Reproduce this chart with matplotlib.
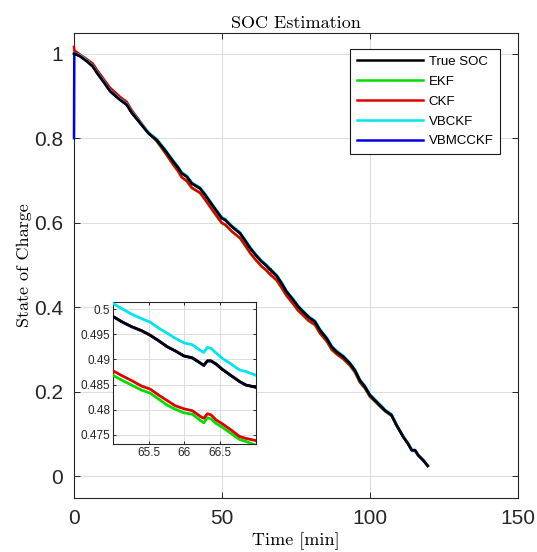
import numpy as np
import matplotlib.pyplot as plt

# discharge time [min] and reference state of charge
time_min = [
    0.0, 0.1, 2.0, 4.3, 6.3, 7.7, 9.9, 12.2, 13.5, 15.5,
    17.8, 19.5, 22.3, 25.1, 27.9, 30.7, 33.5, 35.2, 36.4, 38.1,
    39.8, 42.6, 44.3, 47.1, 49.9, 51.0, 53.3, 56.1, 57.7, 59.5,
    61.1, 63.4,
    64.98, 65.12, 65.26, 65.40, 65.52, 65.64, 65.76, 65.87, 65.99, 66.11,
    66.23, 66.27, 66.32, 66.37, 66.44, 66.53, 66.65, 66.77, 66.86, 66.99,
    68.5, 70.2, 71.8, 74.1, 75.8, 76.9, 79.2, 81.4, 83.1, 85.4,
    87.1, 88.7, 91.0, 93.2, 94.9, 96.6, 98.3, 100.0, 101.7, 103.4,
    105.1, 107.3, 109.0, 111.3, 112.9, 114.1, 115.2, 116.3, 118.0, 119.5,
]
true_soc = [
    1.000, 1.000, 0.994, 0.982, 0.970, 0.955, 0.934, 0.911, 0.903, 0.891,
    0.879, 0.860, 0.836, 0.812, 0.796, 0.772, 0.745, 0.730, 0.717, 0.709,
    0.693, 0.681, 0.666, 0.638, 0.611, 0.607, 0.591, 0.575, 0.559, 0.540,
    0.526, 0.508,
    0.4987, 0.4975, 0.4965, 0.4957, 0.4948, 0.4937, 0.4925, 0.4917, 0.4907, 0.4903,
    0.4892, 0.4888, 0.4897, 0.4897, 0.4891, 0.4880, 0.4868, 0.4856, 0.4849, 0.4845,
    0.474, 0.456, 0.437, 0.417, 0.401, 0.393, 0.377, 0.366, 0.346, 0.326,
    0.306, 0.295, 0.283, 0.267, 0.251, 0.227, 0.212, 0.192, 0.180, 0.168,
    0.156, 0.145, 0.121, 0.093, 0.077, 0.062, 0.062, 0.050, 0.038, 0.025,
]

# estimation error of each filter on the same time base
ekf_err = [
    0.0, 0.006, 0.003, 0.004, 0.006, 0.006, 0.006, 0.007, 0.007, 0.006,
    0.006, 0.005, 0.003, 0.0, -0.003, -0.006, -0.008, -0.009, -0.010, -0.011,
    -0.011, -0.011, -0.012, -0.012, -0.012, -0.012, -0.012, -0.012, -0.012, -0.012,
    -0.012, -0.012,
    -0.0117, -0.0116, -0.0116, -0.0118, -0.0115, -0.0116, -0.0116, -0.0116, -0.0113, -0.0112,
    -0.0114, -0.0114, -0.0113, -0.0115, -0.0118, -0.0115, -0.0115, -0.0115, -0.0112, -0.0115,
    -0.011, -0.011, -0.010, -0.010, -0.010, -0.009, -0.009, -0.008, -0.008, -0.007,
    -0.007, -0.006, -0.006, -0.005, -0.005, -0.005, -0.004, -0.004, -0.003, -0.003,
    -0.002, -0.002, -0.001, -0.001, -0.001, 0.0, 0.0, 0.0, 0.0, 0.0,
]
ckf_err = [
    0.016, 0.008, 0.004, 0.005, 0.007, 0.007, 0.007, 0.008, 0.008, 0.007,
    0.007, 0.006, 0.004, 0.001, -0.002, -0.005, -0.007, -0.008, -0.009, -0.010,
    -0.010, -0.010, -0.011, -0.011, -0.011, -0.011, -0.011, -0.011, -0.011, -0.011,
    -0.011, -0.011,
    -0.0108, -0.0107, -0.0107, -0.0110, -0.0107, -0.0108, -0.0107, -0.0109, -0.0105, -0.0105,
    -0.0106, -0.0105, -0.0105, -0.0107, -0.0111, -0.0108, -0.0108, -0.0109, -0.0106, -0.0106,
    -0.010, -0.010, -0.009, -0.009, -0.009, -0.008, -0.008, -0.007, -0.007, -0.006,
    -0.006, -0.005, -0.005, -0.004, -0.004, -0.004, -0.003, -0.003, -0.002, -0.002,
    -0.001, -0.001, -0.001, 0.0, 0.0, 0.0, 0.0, 0.0, 0.0, 0.0,
]
vbckf_err = [
    0.0, 0.001, 0.002, 0.002, 0.002, 0.002, 0.002, 0.002, 0.002, 0.002,
    0.002, 0.002, 0.002, 0.0025, 0.0025, 0.0025, 0.0025, 0.0025, 0.0025, 0.0025,
    0.0025, 0.0025, 0.0025, 0.0025, 0.0025, 0.0025, 0.0025, 0.0025, 0.0025, 0.0025,
    0.0025, 0.0025,
    0.0026, 0.0026, 0.0025, 0.0024, 0.0026, 0.0025, 0.0027, 0.0025, 0.0026, 0.0026,
    0.0025, 0.0026, 0.0027, 0.0025, 0.0022, 0.0022, 0.0023, 0.0023, 0.0027, 0.0024,
    0.0025, 0.0025, 0.0025, 0.0025, 0.0025, 0.0025, 0.0025, 0.0025, 0.0025, 0.0025,
    0.0025, 0.0025, 0.0025, 0.0025, 0.0025, 0.0025, 0.0025, 0.0025, 0.0025, 0.0025,
    0.002, 0.002, 0.002, 0.0015, 0.0015, 0.0015, 0.001, 0.001, 0.001, 0.001,
]
# VBMCCKF starts from 0.8 and locks onto the true SOC at once
vbmcckf_err = [-0.2] + [0.0] * (len(time_min) - 1)

labels = ['True SOC', 'EKF', 'CKF', 'VBCKF', 'VBMCCKF']
colors = ['black', '#00dd00', '#e00000', '#00e5ee', '#0000e6']

x_ticks = [0, 50, 100, 150]
x_tick_labels = ['0', '50', '100', '150']
y_ticks = [0, 0.2, 0.4, 0.6, 0.8, 1]
y_tick_labels = ['0', '0.2', '0.4', '0.6', '0.8', '1']
inset_x_ticks = [65.5, 66, 66.5]
inset_x_labels = ['65.5', '66', '66.5']
inset_y_ticks = [0.475, 0.48, 0.485, 0.49, 0.495, 0.5]
inset_y_labels = ['0.475', '0.48', '0.485', '0.49', '0.495', '0.5']

t = np.array(time_min)
soc = np.array(true_soc)
series = {
    'True SOC': soc,
    'EKF': soc + np.array(ekf_err),
    'CKF': soc + np.array(ckf_err),
    'VBCKF': soc + np.array(vbckf_err),
    'VBMCCKF': soc + np.array(vbmcckf_err),
}

SANS = 'Liberation Sans'
SERIF = 'cmr10'
EDGE = '#262626'


def draw_lines(ax, lw, clip=True):
    # true SOC goes on top so the estimates only show at its edges
    order = ['EKF', 'CKF', 'VBCKF', 'VBMCCKF', 'True SOC']
    handles = {}
    for name in order:
        c = colors[labels.index(name)]
        handles[name], = ax.plot(t, series[name], color=c, lw=lw, label=name,
                                 clip_on=clip, zorder=3)
    return [handles[n] for n in labels]


def style_axes(ax, size, pad, length):
    ax.grid(True, color='#dcdcdc', lw=0.7)
    ax.set_axisbelow(True)
    ax.tick_params(direction='in', top=True, right=True, length=length,
                   width=0.7, colors=EDGE, labelsize=size, pad=pad)
    for s in ax.spines.values():
        s.set_color(EDGE)
        s.set_linewidth(0.8)
    for lab in ax.get_xticklabels() + ax.get_yticklabels():
        lab.set_fontfamily(SANS)


fig = plt.figure(figsize=(5.37, 5.52), dpi=100)
ax = fig.add_axes([0.1378, 0.0986, 0.8268, 0.8425])
handles = draw_lines(ax, 1.8, clip=False)
ax.set_xlim(0, 150)
ax.set_ylim(-0.05, 1.05)
ax.set_xticks(x_ticks, x_tick_labels)
ax.set_yticks(y_ticks, y_tick_labels)
style_axes(ax, 15, 8, 4)
ax.set_title('SOC Estimation', fontfamily=SERIF, fontsize=13, pad=3)
ax.set_xlabel('Time [min]', fontfamily=SERIF, fontsize=13, labelpad=3.5)
ax.set_ylabel('State of Charge', fontfamily=SERIF, fontsize=13, labelpad=1)

leg = ax.legend(handles, labels, loc='upper right', bbox_to_anchor=(0.9595, 0.9645),
                borderaxespad=0, fancybox=False, framealpha=1, edgecolor='#1a1a1a',
                prop={'family': SANS, 'size': 9.5}, handlelength=5.0,
                handletextpad=0.45, labelspacing=0.58, borderpad=0.5)
leg.get_frame().set_linewidth(0.8)
leg.set_zorder(5)

# zoomed view around 66 min
axin = fig.add_axes([0.2104, 0.1957, 0.2663, 0.2572])
axin.set_zorder(6)
draw_lines(axin, 2.0)
axin.set_xlim(65, 67)
axin.set_ylim(0.4732, 0.5014)
axin.set_xticks(inset_x_ticks, inset_x_labels)
axin.set_yticks(inset_y_ticks, inset_y_labels)
style_axes(axin, 8.5, 2, 2.5)

fig.savefig('out.png', dpi=100)
